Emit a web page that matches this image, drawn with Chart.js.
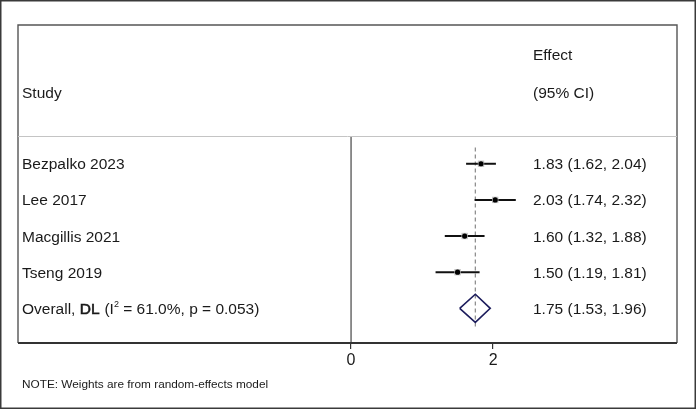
<!DOCTYPE html>
<html>
<head>
<meta charset="utf-8">
<script src="https://cdn.jsdelivr.net/npm/chart.js@4"></script>
<style>
  html, body { margin: 0; padding: 0; background: #fff; }
  canvas { display: block; }
</style>
</head>
<body>
<canvas id="forest" width="696" height="409"></canvas>
<script>
// data
const studies = ['Bezpalko 2023', 'Lee 2017', 'Macgillis 2021', 'Tseng 2019'];
const effects = [1.83, 2.03, 1.60, 1.50];
const lowerCI = [1.62, 1.74, 1.32, 1.19];
const upperCI = [2.04, 2.32, 1.88, 1.81];
const overallEffect = 1.75;
const overallLower = 1.53;
const overallUpper = 1.96;
const overallStats = { i2: '61.0%', p: '0.053' };
const xTicks = [0, 2];
const noteText = 'NOTE: Weights are from random-effects model';

// row 0 = overall, studies above it
const rowOf = i => studies.length - i;
const HEADER_Y = 4.76;
const FONT = '"Liberation Sans", Arial, sans-serif';

const ciSets = studies.map((s, i) => ({
    type: 'scatter', showLine: true, order: 3,
    data: [{ x: lowerCI[i], y: rowOf(i) }, { x: upperCI[i], y: rowOf(i) }],
    borderColor: '#111', borderWidth: 2, pointRadius: 0
}));

const datasets = [
    ...ciSets,
    { // weight boxes
        type: 'scatter', order: 2,
        data: effects.map((e, i) => ({ x: e, y: rowOf(i) })),
        pointStyle: 'rect', pointRadius: 4.5, backgroundColor: '#c2c2c2', borderWidth: 0
    },
    { // point estimates
        type: 'scatter', order: 1,
        data: effects.map((e, i) => ({ x: e, y: rowOf(i) })),
        pointStyle: 'circle', pointRadius: 2.6, backgroundColor: '#000', borderWidth: 0
    },
    { // overall diamond
        type: 'scatter', showLine: true, order: 1,
        data: [
            { x: overallLower, y: 0 }, { x: overallEffect, y: 0.39 },
            { x: overallUpper, y: 0 }, { x: overallEffect, y: -0.39 },
            { x: overallLower, y: 0 }
        ],
        borderColor: '#1c1c5c', borderWidth: 1.6, pointRadius: 0, fill: false
    },
    { // overall effect reference
        type: 'scatter', showLine: true, order: 4,
        data: [{ x: overallEffect, y: -0.5 }, { x: overallEffect, y: 4.5 }],
        borderColor: '#888', borderWidth: 1.2, borderDash: [4, 3], pointRadius: 0
    },
    { // no-effect line
        type: 'scatter', showLine: true, order: 5,
        data: [{ x: 0, y: -1 }, { x: 0, y: HEADER_Y }],
        borderColor: '#444', borderWidth: 1.2, pointRadius: 0
    }
];

const framePlugin = {
    id: 'frame',
    beforeDraw(chart) {
        const c = chart.ctx;
        c.save();
        c.fillStyle = '#fff';
        c.fillRect(0, 0, chart.width, chart.height);
        c.restore();
    },
    afterDraw(chart) {
        const c = chart.ctx, a = chart.chartArea, y = chart.scales.y;
        c.save();
        // outer border
        c.strokeStyle = '#3a3a3a'; c.lineWidth = 1.5;
        c.strokeRect(0.75, 0.75, chart.width - 1.5, chart.height - 1.5);
        // plot box
        c.strokeStyle = '#555'; c.lineWidth = 1.4;
        c.beginPath();
        c.moveTo(a.left, a.bottom); c.lineTo(a.left, a.top);
        c.lineTo(a.right, a.top); c.lineTo(a.right, a.bottom);
        c.stroke();
        c.strokeStyle = '#333'; c.lineWidth = 2;
        c.beginPath(); c.moveTo(a.left, a.bottom); c.lineTo(a.right, a.bottom); c.stroke();
        // header separator
        const hy = Math.round(y.getPixelForValue(HEADER_Y)) + 0.5;
        c.strokeStyle = '#c4c4c4'; c.lineWidth = 1;
        c.beginPath(); c.moveTo(a.left, hy); c.lineTo(a.right, hy); c.stroke();

        // text, baseline placed so caps centre on the row
        const lx = a.left + 4, ex = a.right - 144;
        const base = v => y.getPixelForValue(v) + 5.5;
        c.fillStyle = '#1a1a1a';
        c.textBaseline = 'alphabetic';
        c.font = '15.5px ' + FONT;
        c.fillText('Study', lx, base(5.98));
        c.fillText('Effect', ex, base(7.01));
        c.fillText('(95% CI)', ex, base(5.98));
        studies.forEach((s, i) => {
            const py = base(rowOf(i));
            c.fillText(s, lx, py);
            c.fillText(effects[i].toFixed(2) + ' (' + lowerCI[i].toFixed(2) + ', ' + upperCI[i].toFixed(2) + ')', ex, py);
        });
        const oy = base(0);
        c.fillText(overallEffect.toFixed(2) + ' (' + overallLower.toFixed(2) + ', ' + overallUpper.toFixed(2) + ')', ex, oy);
        // overall label, DL slightly heavier, superscript 2
        let px = lx;
        const part = (txt, font, dy, heavy) => {
            c.font = font;
            c.fillText(txt, px, oy + (dy || 0));
            if (heavy) {
                c.strokeStyle = '#1a1a1a'; c.lineWidth = 0.6;
                c.strokeText(txt, px, oy);
            }
            px += c.measureText(txt).width + (heavy ? 0.6 : 0);
        };
        part('Overall, ', '15.5px ' + FONT);
        part('DL', '15.5px ' + FONT, 0, true);
        part(' (I', '15.5px ' + FONT);
        part('2', '9px ' + FONT, -7);
        part(' = ' + overallStats.i2 + ', p = ' + overallStats.p + ')', '15.5px ' + FONT);

        c.font = '11.8px ' + FONT;
        c.fillText(noteText, lx, a.bottom + 45);
        c.restore();
    }
};

new Chart(document.getElementById('forest'), {
    type: 'scatter',
    data: { datasets },
    options: {
        responsive: false,
        animation: false,
        layout: { padding: { left: 18, right: 19, top: 25, bottom: 0 } },
        plugins: { legend: { display: false }, tooltip: { enabled: false } },
        scales: {
            x: {
                type: 'linear', min: -4.69, max: 4.59,
                afterBuildTicks: s => { s.ticks = xTicks.map(v => ({ value: v })); },
                afterFit: s => { s.height = 66; },
                grid: { drawOnChartArea: false, drawTicks: true, tickLength: 6, color: '#333', lineWidth: 1.2 },
                border: { display: false },
                ticks: { color: '#1a1a1a', padding: 2, font: { size: 16, family: FONT } }
            },
            y: { display: false, min: -0.96, max: 7.84 }
        }
    },
    plugins: [framePlugin]
});
</script>
</body>
</html>
